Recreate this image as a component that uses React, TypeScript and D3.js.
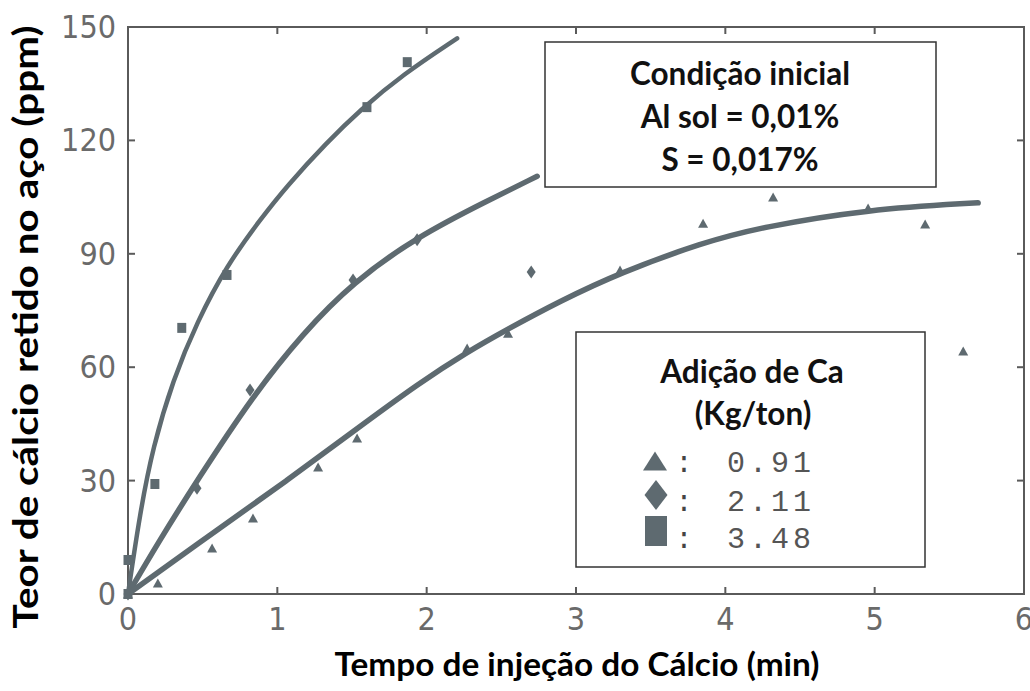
import React from "react";
import * as d3 from "d3";

const xTicks = [0, 1, 2, 3, 4, 5, 6];
const yTicks = [0, 30, 60, 90, 120, 150];

// Measured points, Ca addition 0.91 kg/ton (triangles)
const triX = [0, 0.2, 0.563, 0.837, 1.273, 1.534, 2.271, 2.545, 3.295, 3.851, 4.32, 4.956, 5.338, 5.593];
const triY = [0, 2.9, 12.2, 20.1, 33.6, 41.3, 65.1, 69.0, 85.7, 98.1, 105.0, 102.1, 97.9, 64.3];
// 2.11 kg/ton (diamonds)
const diaX = [0, 0.462, 0.817, 1.507, 1.936, 2.7];
const diaY = [0, 28.0, 54.0, 83.1, 93.7, 85.2];
// 3.48 kg/ton (squares)
const sqX = [0, 0.0, 0.18, 0.36, 0.663, 1.6, 1.87];
const sqY = [0, 9, 29.1, 70.4, 84.4, 128.8, 140.7];

// Fitted curves
const triCurveX = [0, 0.616, 1.065, 1.507, 1.956, 2.271, 2.539, 2.894, 3.295, 3.851, 4.233, 4.956, 5.693];
const triCurveY = [0, 17.5, 30, 43, 56, 64, 70, 77.5, 85, 93, 97, 101.8, 103.5];
const diaCurveX = [0, 0.2, 0.462, 0.837, 1.172, 1.507, 1.936, 2.405, 2.74];
const diaCurveY = [0, 13.5, 30, 52.5, 69, 82.5, 94.5, 104, 110.5];
const sqCurveX = [0, 0.08, 0.167, 0.301, 0.462, 0.663, 0.884, 1.065, 1.333, 1.554, 1.842, 2.204];
const sqCurveY = [0, 21.4, 38.9, 56.6, 72, 87, 99, 108, 119.5, 128, 137.5, 147];

const legendLabels = ["0.91", "2.11", "3.48"];
const infoLines = ["Condição inicial", "Al sol = 0,01%", "S = 0,017%"];

const W = 1030;
const H = 691;
const INK = "#5e6a70";
const AXIS = "#5a5a5a";

const x = d3.scaleLinear().domain([0, 6]).range([128, 1024]);
const y = d3.scaleLinear().domain([0, 150]).range([594, 27]);

const line = d3
  .line<[number, number]>()
  .x((d) => x(d[0]))
  .y((d) => y(d[1]))
  .curve(d3.curveBasis);

const zip = (a: number[], b: number[]) => a.map((v, i) => [v, b[i]] as [number, number]);

const triPath = (cx: number, cy: number, w: number, h: number) =>
  `M${cx},${cy - h / 2}L${cx + w / 2},${cy + h / 2}L${cx - w / 2},${cy + h / 2}Z`;
const diaPath = (cx: number, cy: number, w: number, h: number) =>
  `M${cx},${cy - h / 2}L${cx + w / 2},${cy}L${cx},${cy + h / 2}L${cx - w / 2},${cy}Z`;
const sqPath = (cx: number, cy: number, w: number, h: number) =>
  `M${cx - w / 2},${cy - h / 2}h${w}v${h}h${-w}Z`;

export default function App() {
  const tickFont = "'Liberation Sans Narrow', 'DejaVu Sans Condensed', sans-serif";
  const boldFont = "Lato, 'Open Sans', sans-serif";
  const monoFont = "'Liberation Mono', 'DejaVu Sans Mono', monospace";
  const [x0, x1] = x.range();
  const [y0, y1] = y.range();
  return (
    <svg
      width={W}
      height={H}
      viewBox={`0 0 ${W} ${H}`}
      style={{ position: "absolute", left: 0, top: 0, background: "#fff" }}
    >
      {/* frame */}
      <rect x={x0} y={y1} width={x1 - x0} height={y0 - y1} fill="none" stroke={AXIS} strokeWidth={2} />
      {/* ticks */}
      {xTicks.map((t) => (
        <g key={"xt" + t}>
          <line x1={x(t)} x2={x(t)} y1={y0} y2={y0 - 7} stroke={AXIS} strokeWidth={2} />
          <line x1={x(t)} x2={x(t)} y1={y1} y2={y1 + 7} stroke={AXIS} strokeWidth={2} />
          <text x={x(t)} y={630} textAnchor="middle" fontFamily={tickFont} fontSize={32} fill="#6a6a6a">
            {t}
          </text>
        </g>
      ))}
      {yTicks.map((t) => (
        <g key={"yt" + t}>
          <line x1={x0} x2={x0 + 7} y1={y(t)} y2={y(t)} stroke={AXIS} strokeWidth={2} />
          <line x1={x1} x2={x1 - 7} y1={y(t)} y2={y(t)} stroke={AXIS} strokeWidth={2} />
          <text x={116} y={y(t) + 11} textAnchor="end" fontFamily={tickFont} fontSize={32} fill="#6a6a6a">
            {t}
          </text>
        </g>
      ))}

      {/* fitted curves */}
      <path d={line(zip(sqCurveX, sqCurveY)) || ""} fill="none" stroke={INK} strokeWidth={4.5} strokeLinecap="round" />
      <path d={line(zip(diaCurveX, diaCurveY)) || ""} fill="none" stroke={INK} strokeWidth={5.5} strokeLinecap="round" />
      <path d={line(zip(triCurveX, triCurveY)) || ""} fill="none" stroke={INK} strokeWidth={5.5} strokeLinecap="round" />

      {/* markers */}
      {triX.map((v, i) => (
        <path key={"tr" + i} d={triPath(x(v), y(triY[i]), 10, 9)} fill={INK} />
      ))}
      {diaX.map((v, i) => (
        <path key={"di" + i} d={diaPath(x(v), y(diaY[i]), 9, 13)} fill={INK} />
      ))}
      {sqX.map((v, i) => (
        <path key={"sq" + i} d={sqPath(x(v), y(sqY[i]), 9, 10)} fill={INK} />
      ))}

      {/* initial-condition box */}
      <rect x={545} y={42} width={391} height={145} fill="#fff" stroke="#333" strokeWidth={1.5} />
      {infoLines.map((s, i) => (
        <text
          key={"info" + i}
          x={740}
          y={85 + i * 43}
          textAnchor="middle"
          fontFamily={boldFont}
          fontWeight={700}
          fontSize={31.5}
          fill="#111"
        >
          {s}
        </text>
      ))}

      {/* legend box */}
      <rect x={576} y={332} width={349} height={235} fill="#fff" stroke="#333" strokeWidth={1.5} />
      <text x={752} y={383} textAnchor="middle" fontFamily={boldFont} fontWeight={700} fontSize={31.5} fill="#111">
        Adição de Ca
      </text>
      <text x={753} y={425} textAnchor="middle" fontFamily={boldFont} fontWeight={700} fontSize={31.5} fill="#111">
        (Kg/ton)
      </text>
      <path d={triPath(655, 461, 24, 19)} fill={INK} />
      <path d={diaPath(656, 495, 23, 30)} fill={INK} />
      <path d={sqPath(656, 531, 22, 30)} fill={INK} />
      {legendLabels.map((s, i) => {
        const by = [472, 511, 548][i];
        return (
          <g key={"lg" + i}>
            <text x={684} y={by} textAnchor="middle" fontFamily={monoFont} fontSize={29} fill="#444">
              :
            </text>
            <text x={727} y={by} fontFamily={monoFont} fontSize={30} letterSpacing={4} fill="#555">
              {s}
            </text>
          </g>
        );
      })}

      {/* axis titles */}
      <text
        x={577}
        y={676}
        textAnchor="middle"
        fontFamily={boldFont}
        fontWeight={700}
        fontSize={33}
        fill="#000"
        textLength={485}
        lengthAdjust="spacingAndGlyphs"
      >
        Tempo de injeção do Cálcio (min)
      </text>
      <text
        transform="translate(38,327) rotate(-90)"
        textAnchor="middle"
        fontFamily={boldFont}
        fontWeight={700}
        fontSize={34}
        fill="#000"
        textLength={603}
        lengthAdjust="spacingAndGlyphs"
      >
        Teor de cálcio retido no aço (ppm)
      </text>
    </svg>
  );
}
